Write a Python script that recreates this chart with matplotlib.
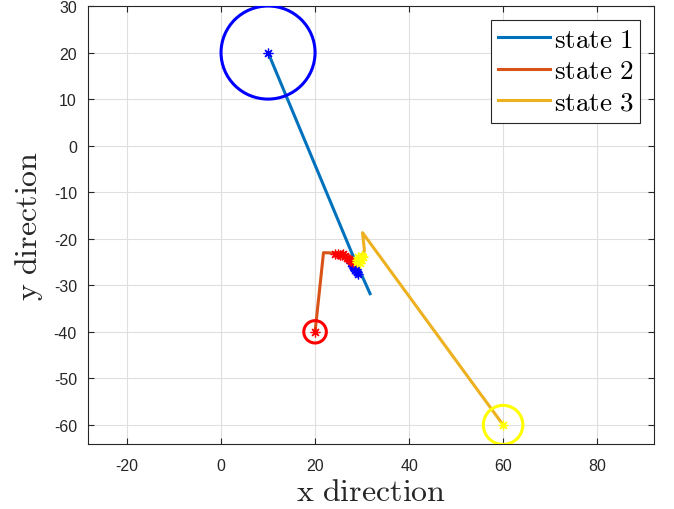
import matplotlib
matplotlib.use("Agg")
import matplotlib.pyplot as plt
from matplotlib.patches import Circle

plt.rcParams['mathtext.fontset'] = 'cm'
plt.rcParams['font.family'] = ['Liberation Sans', 'DejaVu Sans']
plt.rcParams['axes.unicode_minus'] = False

# ---- data ----
s1_x = [10.0, 28.0, 31.7]
s1_y = [20.0, -23.5, -31.8]
s2_x = [20.0, 21.8, 25.0, 26.5, 27.5, 28.3]
s2_y = [-40.0, -23.0, -23.1, -23.6, -24.2, -24.8]
s3_x = [60.0, 30.1, 30.5, 29.3]
s3_y = [-60.0, -18.7, -22.5, -24.8]

b_star_x = [10.0, 27.6, 28.0, 28.3, 28.6, 28.9, 28.2, 28.8, 29.2]
b_star_y = [20.0, -25.3, -25.8, -26.3, -26.8, -27.2, -26.0, -26.5, -27.5]
r_star_x = [20.0, 24.2, 24.8, 25.3, 25.8, 26.3, 26.8, 27.3, 27.7, 28.1, 26.0]
r_star_y = [-40.0, -23.2, -23.3, -23.4, -23.5, -23.8, -24.1, -24.4, -24.7, -25.0, -23.3]
y_star_x = [60.0, 29.0, 29.4, 29.8, 30.2, 29.6, 28.9, 30.0, 29.2]
y_star_y = [-60.0, -24.5, -24.8, -24.3, -24.0, -25.3, -25.1, -23.7, -23.9]

circ_x = [10.0, 20.0, 60.0]
circ_y = [20.0, -40.0, -60.0]
circ_r = [10.0, 2.4, 4.2]
circ_c = ['#0000FF', '#FF0000', '#FFFF00']

labels = ['state 1', 'state 2', 'state 3']
line_c = ['#0072BD', '#D95319', '#EDB120']

xticks = [-20, 0, 20, 40, 60, 80]
yticks = [-60, -50, -40, -30, -20, -10, 0, 10, 20, 30]

fig = plt.figure(figsize=(6.74, 5.10), dpi=100)
ax = fig.add_axes([88/674, 65/510, 566/674, 438/510])

for xs, ys, c, lab in zip([s1_x, s2_x, s3_x], [s1_y, s2_y, s3_y], line_c, labels):
    ax.plot(xs, ys, color=c, lw=2.2, label=r'$\mathrm{' + lab.replace(' ', r'\ ') + '}$', zorder=3)

mk = (8, 2, 0)
ax.plot(b_star_x, b_star_y, ls='none', marker=mk, ms=7, mec='#0000FF', mew=0.9, zorder=4)
ax.plot(r_star_x, r_star_y, ls='none', marker=mk, ms=7, mec='#FF0000', mew=0.9, zorder=4)
ax.plot(y_star_x, y_star_y, ls='none', marker=mk, ms=7, mec='#FFFF00', mew=0.9, zorder=4)

for cx, cy, r, c in zip(circ_x, circ_y, circ_r, circ_c):
    ax.add_patch(Circle((cx, cy), r, fill=False, ec=c, lw=2.2, zorder=4))

ax.set_xlim(-28.3, 92.1)
ax.set_ylim(-64.1, 30)
ax.set_xticks(xticks)
ax.set_yticks(yticks)
ax.grid(True, color='#DFDFDF', lw=0.8)
ax.set_axisbelow(True)
ax.tick_params(direction='in', top=True, right=True, length=4, width=0.8,
               colors='#262626', labelsize=11.5)
ax.tick_params(axis='x', pad=10)
ax.tick_params(axis='y', pad=8)
for sp in ax.spines.values():
    sp.set_color('#262626')
    sp.set_linewidth(0.8)

ax.set_xlabel(r'$\mathrm{x\ direction}$', fontsize=23, color='#262626', labelpad=3)
ax.set_ylabel(r'$\mathrm{y\ direction}$', fontsize=23, color='#262626', labelpad=6)

leg = ax.legend(loc='upper right', fontsize=19.5, frameon=True, fancybox=False,
                edgecolor='#262626', framealpha=1, handlelength=1.9,
                borderaxespad=0.5, labelspacing=0.2, handletextpad=0.15,
                borderpad=0.27)
leg.get_frame().set_linewidth(0.8)

fig.savefig('out.png', dpi=100)
